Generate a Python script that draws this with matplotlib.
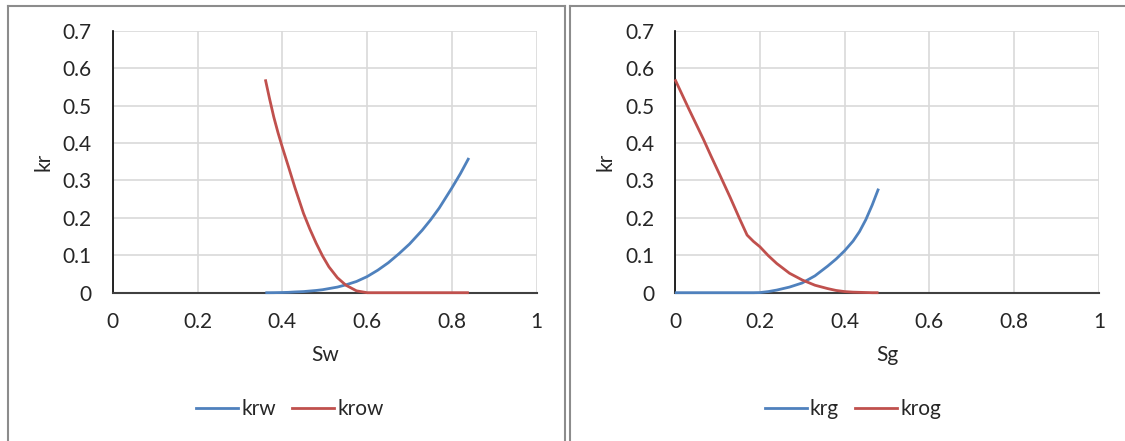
import matplotlib.pyplot as plt
from matplotlib.lines import Line2D

# water-oil
sw = [0.36, 0.37, 0.38, 0.39, 0.40, 0.415, 0.43, 0.45, 0.465, 0.48, 0.495, 0.51, 0.53,
      0.55, 0.575, 0.60, 0.625, 0.65, 0.675, 0.70, 0.73, 0.75, 0.77, 0.80, 0.82, 0.84]
krw = [0, 0, 0.0001, 0.0003, 0.0005, 0.001, 0.002, 0.003, 0.0045, 0.006, 0.008, 0.011, 0.015,
       0.021, 0.03, 0.043, 0.06, 0.08, 0.104, 0.13, 0.167, 0.195, 0.226, 0.28, 0.318, 0.36]
krow = [0.57, 0.518, 0.469, 0.427, 0.389, 0.335, 0.28, 0.212, 0.17, 0.132, 0.098, 0.069, 0.04,
        0.02, 0.005, 0, 0, 0, 0, 0, 0, 0, 0, 0, 0, 0]

# gas-oil
sg = [0, 0.033, 0.067, 0.085, 0.106, 0.13, 0.153, 0.17, 0.185, 0.20, 0.22, 0.24, 0.27,
      0.30, 0.33, 0.36, 0.38, 0.40, 0.42, 0.435, 0.45, 0.465, 0.48]
krg = [0, 0, 0, 0, 0, 0, 0, 0, 0, 0.0003, 0.003, 0.007, 0.015,
       0.026, 0.045, 0.071, 0.09, 0.112, 0.138, 0.163, 0.195, 0.234, 0.278]
krog = [0.57, 0.49, 0.41, 0.365, 0.314, 0.255, 0.196, 0.154, 0.137, 0.123, 0.099, 0.078, 0.052,
        0.034, 0.02, 0.011, 0.006, 0.003, 0.0015, 0.001, 0.0005, 0, 0]

x_ticks = [0, 0.2, 0.4, 0.6, 0.8, 1]
x_ticklabels = ["0", "0.2", "0.4", "0.6", "0.8", "1"]
y_ticks = [0, 0.1, 0.2, 0.3, 0.4, 0.5, 0.6, 0.7]
y_ticklabels = ["0", "0.1", "0.2", "0.3", "0.4", "0.5", "0.6", "0.7"]

plt.rcParams['font.family'] = ['Lato', 'DejaVu Sans']

W, H = 1125, 441
fig = plt.figure(figsize=(W / 100, H / 100), dpi=100)

blue = "#4F81BD"
red = "#C0504D"
txt = "#262626"
fs = 15


def panel(left_px, xs, y1, y2, xlabel, names, leg_x):
    ax = fig.add_axes([left_px / W, 1 - 292.7 / H, 424 / W, (292.7 - 30.7) / H])
    ax.plot(xs, y1, color=blue, lw=2.0, clip_on=False, zorder=4, solid_capstyle='butt')
    ax.plot(xs, y2, color=red, lw=2.0, clip_on=False, zorder=5, solid_capstyle='butt')
    ax.set_xlim(0, 1)
    ax.set_ylim(0, 0.7)
    ax.set_xticks(x_ticks)
    ax.set_xticklabels(x_ticklabels)
    ax.set_yticks(y_ticks)
    ax.set_yticklabels(y_ticklabels)
    ax.tick_params(length=0, labelsize=fs, colors=txt)
    ax.tick_params(axis='x', pad=14)
    ax.tick_params(axis='y', pad=15)
    ax.grid(True, color="#D9D9D9", lw=1.2)
    ax.set_axisbelow(True)
    for s in ["top", "right"]:
        ax.spines[s].set_visible(False)
    ax.spines["left"].set_color("black")
    ax.spines["bottom"].set_color("#404040")
    ax.spines["left"].set_linewidth(1.2)
    ax.spines["bottom"].set_linewidth(1.5)
    ax.set_xlabel(xlabel, fontsize=fs, color=txt, labelpad=9)
    ax.set_ylabel("kr", fontsize=fs, color=txt, labelpad=7)
    handles = [Line2D([], [], color=blue, lw=2.0), Line2D([], [], color=red, lw=2.0)]
    fig.legend(handles, names, loc="center", bbox_to_anchor=(leg_x / W, 1 - 409 / H),
               ncol=2, frameon=False, fontsize=fs, handlelength=2.0,
               handletextpad=0.15, columnspacing=0.8, labelcolor=txt)
    return ax


panel(112.7, sw, krw, krow, "Sw", ["krw", "krow"], 290)
panel(675, sg, krg, krog, "Sg", ["krg", "krog"], 853)

# chart frames
bc = "#8C8C8C"
for xp in [8, 565, 570]:
    fig.add_artist(Line2D([xp / W, xp / W], [0, 1 - 6 / H], color=bc, lw=1.5))
fig.add_artist(Line2D([8 / W, 565 / W], [1 - 6 / H, 1 - 6 / H], color=bc, lw=1.5))
fig.add_artist(Line2D([570 / W, 1], [1 - 6 / H, 1 - 6 / H], color=bc, lw=1.5))

fig.savefig("out.png", dpi=100)
